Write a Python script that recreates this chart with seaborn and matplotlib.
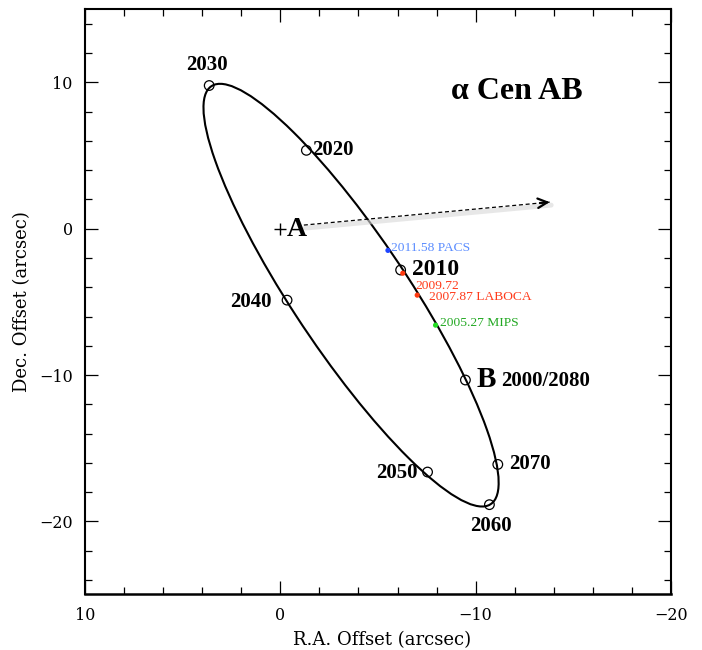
import matplotlib
matplotlib.use('Agg')
import matplotlib.pyplot as plt
import seaborn as sns
import pandas as pd
from matplotlib.patches import Ellipse
import matplotlib.patheffects as pe
from matplotlib.ticker import MultipleLocator

# ---------------- data ----------------
epoch_labels = ['2030', '2020', '2010', '2000/2080', '2070', '2060', '2050', '2040']
epoch_ra = [3.65, -1.33, -6.16, -9.48, -11.14, -10.71, -7.54, -0.34]
epoch_dec = [9.79, 5.36, -2.82, -10.34, -16.11, -18.86, -16.63, -4.88]

obs_labels = ['2011.58 PACS', '2009.72', '2007.87 LABOCA', '2005.27 MIPS']
obs_ra = [-5.51, -6.27, -7.01, -7.95]
obs_dec = [-1.48, -3.04, -4.54, -6.59]
obs_dot_colors = ['#1f45ff', '#ff3a10', '#ff3a10', '#22dd22']
obs_text_colors = ['#5a8cff', '#ff3a1a', '#ff3a1a', '#22a822']

orbit_center_ra = -3.62
orbit_center_dec = -4.54
orbit_major = 32.0
orbit_minor = 6.3
orbit_angle = 64.0

star_a_ra, star_a_dec = 0.0, 0.0
motion_start = (-1.2, 0.25)
motion_end = (-13.8, 1.82)

xticks = [10, 0, -10, -20]
yticks = [10, 0, -10, -20]

title_text = 'α Cen AB'
xlabel_text = 'R.A. Offset (arcsec)'
ylabel_text = 'Dec. Offset (arcsec)'

# ---------------- styling ----------------
sns.set_theme(style='ticks')
plt.rcParams['font.family'] = ['DejaVu Serif', 'DejaVu Sans']
plt.rcParams['axes.unicode_minus'] = True
for key in ['text.color', 'axes.labelcolor', 'xtick.color', 'ytick.color',
            'axes.edgecolor', 'xtick.labelcolor', 'ytick.labelcolor']:
    plt.rcParams[key] = 'black'

fig = plt.figure(figsize=(7.02, 6.5), dpi=100)
ax = fig.add_axes([0.1215, 0.0854, 0.8339, 0.9003])
ax.set_xlim(10, -20)
ax.set_ylim(-25, 15)

# orbit ellipse
orbit = Ellipse((orbit_center_ra, orbit_center_dec), orbit_major, orbit_minor,
                angle=orbit_angle, fill=False, edgecolor='black', linewidth=1.5, zorder=2)
ax.add_patch(orbit)

# proper-motion arrow (dashed shaft + solid open head), with a soft shadow
ax.plot([motion_start[0], motion_end[0]], [motion_start[1], motion_end[1]],
        color='#d8d8d8', linewidth=3.5, alpha=0.6, zorder=2.5,
        transform=ax.transData + matplotlib.transforms.ScaledTranslation(1.5/100, -3/100, fig.dpi_scale_trans),
        solid_capstyle='round')
ax.plot([motion_start[0], motion_end[0]], [motion_start[1], motion_end[1]],
        color='black', linewidth=0.9, linestyle=(0, (3.2, 2.2)), zorder=3)
head_from = (motion_end[0] + 0.04 * (motion_start[0] - motion_end[0]),
             motion_end[1] + 0.04 * (motion_start[1] - motion_end[1]))
ax.annotate('', xy=motion_end, xytext=head_from,
            arrowprops=dict(arrowstyle='->', color='black', lw=1.6,
                            mutation_scale=17, shrinkA=0, shrinkB=0), zorder=4)

# epoch circles
epochs = pd.DataFrame({'ra': epoch_ra, 'dec': epoch_dec, 'label': epoch_labels})
sns.scatterplot(data=epochs, x='ra', y='dec', ax=ax, marker='o', s=48,
                facecolor='none', edgecolor='black', linewidth=0.9, zorder=5, legend=False)

# observation dots
obs = pd.DataFrame({'ra': obs_ra, 'dec': obs_dec, 'label': obs_labels})
sns.scatterplot(data=obs, x='ra', y='dec', ax=ax, hue='label',
                palette=dict(zip(obs_labels, obs_dot_colors)), s=14,
                linewidth=0, zorder=6, legend=False)

# star A
ax.plot([star_a_ra], [star_a_dec], marker='+', markersize=9, mew=1.0, color='black', zorder=6)
ax.annotate('A', (star_a_ra, star_a_dec), xytext=(6, -1), textcoords='offset pixels',
            ha='left', va='center', fontsize=20, fontweight='bold',
            family='Liberation Serif', zorder=7)

# epoch labels
serif_bold = dict(family='Liberation Serif', fontweight='bold')
epoch_style = {
    '2030': ((-2, 21), 'center', 15),
    '2020': ((6, 0), 'left', 15),
    '2010': ((11, 0), 'left', 17),
    '2000/2080': ((36, -1), 'left', 15),
    '2070': ((11, 0), 'left', 15),
    '2060': ((2, -21), 'center', 15),
    '2050': ((-10, -1), 'right', 15),
    '2040': ((-15, -2), 'right', 15),
}
for lab, xr, yr in zip(epoch_labels, epoch_ra, epoch_dec):
    off, ha, fs = epoch_style[lab]
    ax.annotate(lab, (xr, yr), xytext=off, textcoords='offset pixels',
                ha=ha, va='center', fontsize=fs, **serif_bold)
    if lab == '2000/2080':
        ax.annotate('B', (xr, yr), xytext=(11, 1), textcoords='offset pixels',
                    ha='left', va='center', fontsize=21, **serif_bold)

# observation labels
obs_style = {
    '2011.58 PACS': (3, 2),
    '2009.72': (13, -13),
    '2007.87 LABOCA': (12, -2),
    '2005.27 MIPS': (4, 2),
}
for lab, xr, yr, col in zip(obs_labels, obs_ra, obs_dec, obs_text_colors):
    ax.annotate(lab, (xr, yr), xytext=obs_style[lab], textcoords='offset pixels',
                ha='left', va='center', fontsize=9.7, color=col,
                family='Liberation Serif')

# title inside axes
ax.text(0.7375, 0.8587, title_text, transform=ax.transAxes, ha='center', va='center',
        fontsize=23, **serif_bold)

# axes, ticks
ax.set_xticks(xticks)
ax.set_yticks(yticks)
ax.xaxis.set_minor_locator(MultipleLocator(2))
ax.yaxis.set_minor_locator(MultipleLocator(2))
ax.tick_params(which='both', direction='in', top=True, right=True, colors='black',
               labelcolor='black', labelsize=11.5, width=0.9)
ax.tick_params(which='major', length=9.5, pad=9)
ax.tick_params(which='minor', length=4.8)
for sp in ax.spines.values():
    sp.set_linewidth(1.5)
    sp.set_color('black')
ax.spines['bottom'].set_linewidth(1.8)

ax.set_xlabel(xlabel_text, fontsize=13, va='center', color='black')
ax.set_ylabel(ylabel_text, fontsize=13, va='center', color='black')
ax.xaxis.set_label_coords(0.507, -0.078)
ax.yaxis.set_label_coords(-0.108, 0.5)
ax.set_facecolor('white')
fig.patch.set_facecolor('white')

fig.savefig('out.png', dpi=100)
